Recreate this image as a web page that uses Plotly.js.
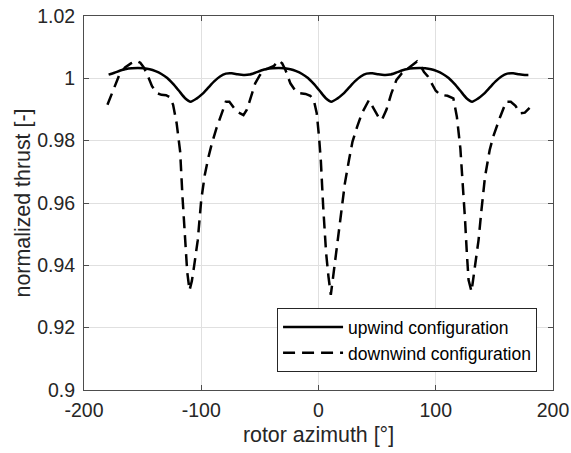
<!DOCTYPE html>
<html>
<head>
<meta charset="utf-8">
<script src="https://cdn.plot.ly/plotly-3.0.1.min.js"></script>
<style>
html,body{margin:0;padding:0;background:#fff;}
#chart{width:571px;height:453px;}
</style>
</head>
<body>
<div id="chart"></div>
<script>
// upwind configuration (solid)
var upwindX = [-179,-174,-169,-164,-159,-154,-149,-144,-139,-134,-129,-124,-119,-114,-109,-104,-99,-94,-89,-84,-79,-74,-69,-64,
               -59,-54,-49,-44,-39,-34,-29,-24,-19,-14,-9,-4,1,6,11,16,21,26,31,36,41,46,51,56,
               61,66,71,76,81,86,91,96,101,106,111,116,121,126,131,136,141,146,151,156,161,166,171,176,179];
var upwindY = [1.0012,1.0018,1.0025,1.0030,1.0032,1.0033,1.0032,1.0029,1.0023,1.0014,1.0001,0.9982,0.9960,0.9937,0.9925,0.9935,0.9950,0.9970,0.9990,1.0006,1.0015,1.0016,1.0013,1.0011,
               1.0012,1.0018,1.0025,1.0030,1.0032,1.0033,1.0032,1.0029,1.0023,1.0014,1.0001,0.9982,0.9960,0.9937,0.9925,0.9935,0.9950,0.9970,0.9990,1.0006,1.0015,1.0016,1.0013,1.0011,
               1.0012,1.0018,1.0025,1.0030,1.0032,1.0033,1.0032,1.0029,1.0023,1.0014,1.0001,0.9982,0.9960,0.9937,0.9925,0.9935,0.9950,0.9970,0.9990,1.0006,1.0015,1.0016,1.0013,1.0011,1.0011];

// downwind configuration (dashed)
var downwindX = [-180,-175,-170,-165,-160,-155,-152,-149,-146,-142,-138,-134,-130,-127,-124,-121,-118,-116,-114,-112,-110,-108,-106,-103,-100,-97,-94,-91,-87,-83,-79,-76,-72,-68,-64,-61,-57,-54,-50,-47,-43,-38,-34,-31,-28,-24,-20,-16,-11,-7,-4,-1.5,0.5,2,4,6.5,8.5,10.5,12.5,15.5,19.5,22.5,26,29,33,37,43,47,51,54,58,62,66.5,71,78,84,87,90,93.5,97,100,104,110,115,118,121,123.5,125,126.5,128,130.5,133.5,136.5,139,142,146,149,155,160,164,168,172,176,180];
var downwindY = [0.9915,0.9965,1.0010,1.0035,1.0048,1.0056,1.0050,1.0035,1.0012,0.9975,0.9953,0.9947,0.9946,0.9940,0.9915,0.9856,0.9765,0.9620,0.9490,0.9380,0.9320,0.9350,0.9400,0.9480,0.9610,0.9690,0.9745,0.9790,0.9840,0.9885,0.9925,0.9925,0.9905,0.9890,0.9882,0.9900,0.9950,0.9984,1.0010,1.0027,1.0032,1.0040,1.0057,1.0048,1.0025,0.9984,0.9962,0.9952,0.9950,0.9944,0.9930,0.9888,0.9810,0.9735,0.9588,0.9439,0.9364,0.9305,0.9364,0.9450,0.9578,0.9663,0.9738,0.9797,0.9845,0.9888,0.9930,0.9905,0.9877,0.9866,0.9900,0.9950,0.9995,1.0016,1.0035,1.0054,1.0040,1.0020,1.0005,0.9980,0.9960,0.9947,0.9944,0.9936,0.9877,0.9775,0.9642,0.9546,0.9440,0.9353,0.9316,0.9396,0.9481,0.9578,0.9684,0.9770,0.9813,0.9877,0.9925,0.9925,0.9912,0.9888,0.9890,0.9905];

var xTickVals = [-200,-100,0,100,200];
var xTickText = ['-200','-100','0','100','200'];
var yTickVals = [0.9,0.92,0.94,0.96,0.98,1,1.02];
var yTickText = ['0.9','0.92','0.94','0.96','0.98','1','1.02'];

var seriesNames = ['upwind configuration','downwind configuration'];

var FONT = 'Liberation Sans, Arial, Helvetica, sans-serif';
var TXT = '#262626';

var traces = [
  {x: upwindX, y: upwindY, type: 'scatter', mode: 'lines', name: seriesNames[0],
   line: {color: '#000000', width: 2.5, shape: 'spline', smoothing: 0.6}},
  {x: downwindX, y: downwindY, type: 'scatter', mode: 'lines', name: seriesNames[1],
   line: {color: '#000000', width: 2.5, dash: '12px,7px'}}
];

var axisCommon = {
  showgrid: true, gridcolor: '#e0e0e0', gridwidth: 1,
  zeroline: false, showline: true, linecolor: '#4d4d4d', linewidth: 1,
  mirror: 'ticks', ticks: 'inside', ticklen: 5, tickwidth: 1, tickcolor: '#4d4d4d',
  tickfont: {family: FONT, size: 19.5, color: TXT},
  tickmode: 'array'
};

var layout = {
  width: 571, height: 453,
  margin: {l: 84, r: 18, t: 16, b: 63, pad: 0},
  paper_bgcolor: '#ffffff', plot_bgcolor: '#ffffff',
  showlegend: true,
  xaxis: Object.assign({}, axisCommon, {
    range: [-200, 200], tickvals: xTickVals, ticktext: xTickText,
    ticklabelstandoff: 3,
    title: {text: 'rotor azimuth [°]', font: {family: FONT, size: 21.4, color: TXT}, standoff: 6}
  }),
  yaxis: Object.assign({}, axisCommon, {
    range: [0.9, 1.02], tickvals: yTickVals, ticktext: yTickText,
    ticklabelstandoff: 4,
    title: {text: 'normalized thrust [-]', font: {family: FONT, size: 21.4, color: TXT}, standoff: 0}
  }),
  legend: {
    x: 0.966, y: 0.048, xanchor: 'right', yanchor: 'bottom',
    bgcolor: '#ffffff', bordercolor: '#262626', borderwidth: 1,
    font: {family: FONT, size: 17.5, color: '#000000'},
    itemwidth: 60, tracegroupgap: 0
  }
};

Plotly.newPlot('chart', traces, layout, {staticPlot: true, displayModeBar: false});
</script>
</body>
</html>
